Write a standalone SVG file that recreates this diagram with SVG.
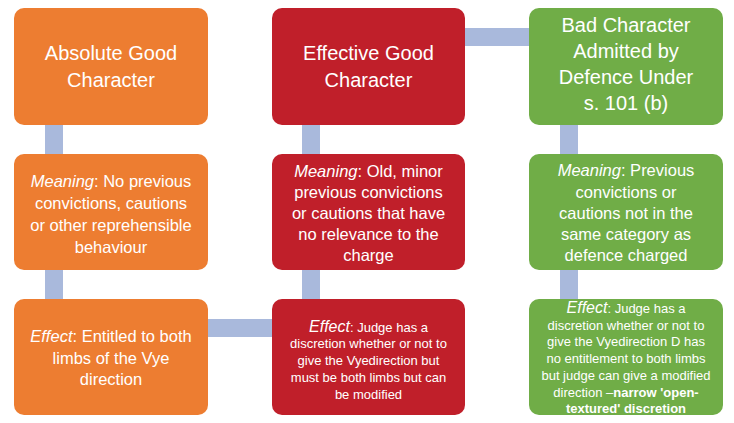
<svg xmlns="http://www.w3.org/2000/svg" width="734" height="423" viewBox="0 0 734 423">
<style>
.box{stroke:none}
.o{fill:#ED7D31}
.r{fill:#C01F2A}
.g{fill:#70AD47}
.c{stroke:#A9B9DC;stroke-width:18;fill:none}
text{font-family:"Liberation Sans",Arial,sans-serif;fill:#FFFFFF;text-anchor:middle}
.t{font-size:20px}
.m{font-size:16.5px}
.s{font-size:13px}
.e{font-size:16px}
.i{font-style:italic}
.b{font-weight:bold}
</style>
<rect width="734" height="423" fill="#FFFFFF"/>
<g id="connectors">
<line class="c" x1="54" y1="120" x2="54" y2="160"/>
<line class="c" x1="54" y1="265" x2="54" y2="305"/>
<line class="c" x1="311" y1="120" x2="311" y2="160"/>
<line class="c" x1="311" y1="265" x2="311" y2="305"/>
<line class="c" x1="569" y1="120" x2="569" y2="160"/>
<line class="c" x1="569" y1="265" x2="569" y2="305"/>
<line class="c" x1="460" y1="37" x2="535" y2="37"/>
<line class="c" x1="203" y1="328" x2="278" y2="328"/>
</g>
<g id="absolute-good">
<rect class="box o" x="14" y="8" width="194" height="117" rx="10"/>
<text class="t" x="111" y="60">Absolute Good</text>
<text class="t" x="111" y="87">Character</text>
</g>
<g id="effective-good">
<rect class="box r" x="272" y="8" width="193" height="117" rx="10"/>
<text class="t" x="368.5" y="60">Effective Good</text>
<text class="t" x="368.5" y="87">Character</text>
</g>
<g id="bad-character">
<rect class="box g" x="529" y="8" width="194" height="117" rx="10"/>
<text class="t" x="626" y="32">Bad Character</text>
<text class="t" x="626" y="58">Admitted by</text>
<text class="t" x="626" y="84">Defence Under</text>
<text class="t" x="626" y="110">s. 101 (b)</text>
</g>
<g id="meaning-absolute">
<rect class="box o" x="14" y="154" width="194" height="116" rx="10"/>
<text class="m" x="111" y="187"><tspan class="i">Meaning</tspan>: No previous</text>
<text class="m" x="111" y="209">convictions, cautions</text>
<text class="m" x="111" y="231">or other reprehensible</text>
<text class="m" x="111" y="253">behaviour</text>
</g>
<g id="meaning-effective">
<rect class="box r" x="272" y="154" width="193" height="116" rx="10"/>
<text class="m" x="368.5" y="177"><tspan class="i">Meaning</tspan>: Old, minor</text>
<text class="m" x="368.5" y="198">previous convictions</text>
<text class="m" x="368.5" y="219">or cautions that have</text>
<text class="m" x="368.5" y="240">no relevance to the</text>
<text class="m" x="368.5" y="261">charge</text>
</g>
<g id="meaning-bad">
<rect class="box g" x="529" y="154" width="194" height="116" rx="10"/>
<text class="m" x="626" y="176"><tspan class="i">Meaning</tspan>: Previous</text>
<text class="m" x="626" y="198">convictions or</text>
<text class="m" x="626" y="219">cautions not in the</text>
<text class="m" x="626" y="240">same category as</text>
<text class="m" x="626" y="261">defence charged</text>
</g>
<g id="effect-absolute">
<rect class="box o" x="14" y="299" width="194" height="116" rx="10"/>
<text class="m" x="111" y="342"><tspan class="i">Effect</tspan>: Entitled to both</text>
<text class="m" x="111" y="364">limbs of the Vye</text>
<text class="m" x="111" y="385">direction</text>
</g>
<g id="effect-effective">
<rect class="box r" x="272" y="299" width="193" height="116" rx="10"/>
<text class="s" x="368.5" y="332"><tspan class="i e">Effect</tspan>: Judge has a</text>
<text class="s" x="368.5" y="348">discretion whether or not to</text>
<text class="s" x="368.5" y="365">give the Vyedirection but</text>
<text class="s" x="368.5" y="382">must be both limbs but can</text>
<text class="s" x="368.5" y="399">be modified</text>
</g>
<g id="effect-bad">
<rect class="box g" x="529" y="299" width="194" height="116" rx="10"/>
<text class="s" x="626" y="313"><tspan class="i e">Effect</tspan>: Judge has a</text>
<text class="s" x="626" y="330">discretion whether or not to</text>
<text class="s" x="626" y="346">give the Vyedirection D has</text>
<text class="s" x="626" y="363">no entitlement to both limbs</text>
<text class="s" x="626" y="380">but judge can give a modified</text>
<text class="s" x="626" y="397">direction –<tspan class="b">narrow 'open-</tspan></text>
<text class="s b" x="626" y="413">textured' discretion</text>
</g>
</svg>
